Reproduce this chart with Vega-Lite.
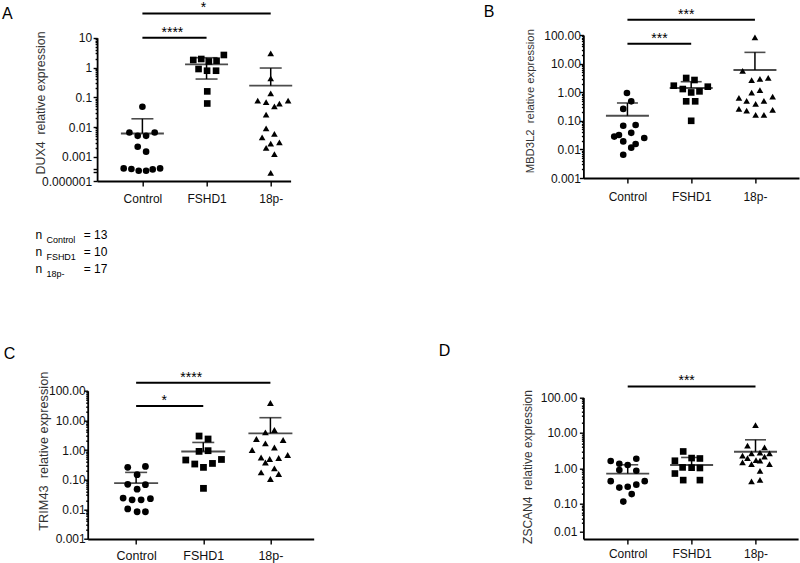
{
"$schema":"https://vega.github.io/schema/vega-lite/v6.json",
"background":"white",
"padding":{"left":1.7,"top":1,"right":0,"bottom":0},
"config":{"view":{"stroke":null},"font":"Liberation Sans","axis":{"grid":false,"domainColor":"#000","domainWidth":1.8,"tickColor":"#000","tickWidth":1.4,"labelColor":"#111","labelFont":"Liberation Sans","labelFontSize":12,"titleFont":"Liberation Sans","titleFontWeight":"normal","titleColor":"#333"}},
"datasets":{
"pts":[
{"p":"A","g":"Control","v":0.048,"o":0},{"p":"A","g":"Control","v":0.0066,"o":-13},{"p":"A","g":"Control","v":0.0051,"o":-4.7},{"p":"A","g":"Control","v":0.0051,"o":3.7},{"p":"A","g":"Control","v":0.0066,"o":12.3},{"p":"A","g":"Control","v":0.0022,"o":-4.7},{"p":"A","g":"Control","v":0.0015,"o":3.7},{"p":"A","g":"Control","v":0.000037,"o":-18.7},{"p":"A","g":"Control","v":0.000031,"o":-11},{"p":"A","g":"Control","v":0.000019,"o":-3.7},{"p":"A","g":"Control","v":0.000019,"o":3.7},{"p":"A","g":"Control","v":0.000028,"o":10.3},{"p":"A","g":"Control","v":0.000037,"o":17.7},
{"p":"A","g":"FSHD1","v":1.79,"o":-13.3},{"p":"A","g":"FSHD1","v":1.93,"o":-5.3},{"p":"A","g":"FSHD1","v":1.6,"o":2.3},{"p":"A","g":"FSHD1","v":1.69,"o":10},{"p":"A","g":"FSHD1","v":2.63,"o":17.3},{"p":"A","g":"FSHD1","v":0.89,"o":-8},{"p":"A","g":"FSHD1","v":0.78,"o":0.5},{"p":"A","g":"FSHD1","v":0.78,"o":9.5},{"p":"A","g":"FSHD1","v":0.158,"o":0.7},{"p":"A","g":"FSHD1","v":0.062,"o":0.7},
{"p":"A","g":"18p-","v":2.97,"o":0},{"p":"A","g":"18p-","v":0.43,"o":0},{"p":"A","g":"18p-","v":0.135,"o":0},{"p":"A","g":"18p-","v":0.077,"o":-13},{"p":"A","g":"18p-","v":0.0685,"o":-4.6},{"p":"A","g":"18p-","v":0.05,"o":3.7},{"p":"A","g":"18p-","v":0.061,"o":8.7},{"p":"A","g":"18p-","v":0.077,"o":17.4},{"p":"A","g":"18p-","v":0.026,"o":-4.6},{"p":"A","g":"18p-","v":0.0091,"o":-4.6},{"p":"A","g":"18p-","v":0.0059,"o":3.7},{"p":"A","g":"18p-","v":0.0045,"o":-8.6},{"p":"A","g":"18p-","v":0.0031,"o":8.7},{"p":"A","g":"18p-","v":0.0028,"o":0},{"p":"A","g":"18p-","v":0.002,"o":-4.6},{"p":"A","g":"18p-","v":0.00125,"o":3.7},{"p":"A","g":"18p-","v":0.00001,"o":0},
{"p":"B","g":"Control","v":0.94,"o":-0.5},{"p":"B","g":"Control","v":0.48,"o":3.8},{"p":"B","g":"Control","v":0.26,"o":-4.2},{"p":"B","g":"Control","v":0.071,"o":8.2},{"p":"B","g":"Control","v":0.067,"o":-4.2},{"p":"B","g":"Control","v":0.028,"o":-13.2},{"p":"B","g":"Control","v":0.032,"o":-8.5},{"p":"B","g":"Control","v":0.038,"o":3.8},{"p":"B","g":"Control","v":0.025,"o":16.8},{"p":"B","g":"Control","v":0.019,"o":-4.2},{"p":"B","g":"Control","v":0.0155,"o":8.2},{"p":"B","g":"Control","v":0.0115,"o":3.8},{"p":"B","g":"Control","v":0.0065,"o":-4.2},
{"p":"B","g":"FSHD1","v":1.69,"o":-17.4},{"p":"B","g":"FSHD1","v":1.29,"o":-8.4},{"p":"B","g":"FSHD1","v":3.14,"o":-5},{"p":"B","g":"FSHD1","v":2.67,"o":3.3},{"p":"B","g":"FSHD1","v":0.98,"o":0},{"p":"B","g":"FSHD1","v":1.07,"o":8.3},{"p":"B","g":"FSHD1","v":1.56,"o":16.6},{"p":"B","g":"FSHD1","v":0.48,"o":-5},{"p":"B","g":"FSHD1","v":0.48,"o":4},{"p":"B","g":"FSHD1","v":0.1,"o":0},
{"p":"B","g":"18p-","v":82,"o":0},{"p":"B","g":"18p-","v":5.6,"o":-12.3},{"p":"B","g":"18p-","v":2.67,"o":-3.3},{"p":"B","g":"18p-","v":2.9,"o":5},{"p":"B","g":"18p-","v":3.14,"o":13.3},{"p":"B","g":"18p-","v":0.96,"o":-3.3},{"p":"B","g":"18p-","v":1.19,"o":5},{"p":"B","g":"18p-","v":0.63,"o":-16},{"p":"B","g":"18p-","v":0.5,"o":-8.3},{"p":"B","g":"18p-","v":0.39,"o":0.7},{"p":"B","g":"18p-","v":0.5,"o":9},{"p":"B","g":"18p-","v":0.7,"o":17.7},{"p":"B","g":"18p-","v":0.26,"o":-16},{"p":"B","g":"18p-","v":0.225,"o":-8.3},{"p":"B","g":"18p-","v":0.16,"o":0.7},{"p":"B","g":"18p-","v":0.16,"o":9},{"p":"B","g":"18p-","v":0.24,"o":17.7},
{"p":"C","g":"Control","v":0.26,"o":-8.4},{"p":"C","g":"Control","v":0.28,"o":9.3},{"p":"C","g":"Control","v":0.147,"o":1},{"p":"C","g":"Control","v":0.048,"o":1},{"p":"C","g":"Control","v":0.068,"o":9.3},{"p":"C","g":"Control","v":0.07,"o":-8.4},{"p":"C","g":"Control","v":0.024,"o":-13},{"p":"C","g":"Control","v":0.021,"o":-4},{"p":"C","g":"Control","v":0.021,"o":5},{"p":"C","g":"Control","v":0.0228,"o":14.3},{"p":"C","g":"Control","v":0.0103,"o":-8.4},{"p":"C","g":"Control","v":0.0083,"o":1},{"p":"C","g":"Control","v":0.0083,"o":9.3},
{"p":"C","g":"FSHD1","v":2.96,"o":-4.2},{"p":"C","g":"FSHD1","v":2.35,"o":4.8},{"p":"C","g":"FSHD1","v":0.9,"o":-4.2},{"p":"C","g":"FSHD1","v":0.95,"o":4.8},{"p":"C","g":"FSHD1","v":0.46,"o":-17.5},{"p":"C","g":"FSHD1","v":0.337,"o":-8.5},{"p":"C","g":"FSHD1","v":0.26,"o":0.2},{"p":"C","g":"FSHD1","v":0.353,"o":9.2},{"p":"C","g":"FSHD1","v":0.48,"o":18.2},{"p":"C","g":"FSHD1","v":0.051,"o":0.2},
{"p":"C","g":"18p-","v":38.4,"o":0},{"p":"C","g":"18p-","v":3.92,"o":-5},{"p":"C","g":"18p-","v":4.72,"o":4},{"p":"C","g":"18p-","v":2.35,"o":-14},{"p":"C","g":"18p-","v":2.17,"o":12.7},{"p":"C","g":"18p-","v":1.0,"o":-18.3},{"p":"C","g":"18p-","v":1.67,"o":-5},{"p":"C","g":"18p-","v":1.22,"o":4},{"p":"C","g":"18p-","v":0.56,"o":-9.3},{"p":"C","g":"18p-","v":0.5,"o":-0.7},{"p":"C","g":"18p-","v":0.54,"o":8.3},{"p":"C","g":"18p-","v":0.68,"o":17.3},{"p":"C","g":"18p-","v":0.38,"o":-5},{"p":"C","g":"18p-","v":0.176,"o":-9.3},{"p":"C","g":"18p-","v":0.24,"o":4},{"p":"C","g":"18p-","v":0.155,"o":8.3},{"p":"C","g":"18p-","v":0.105,"o":0},
{"p":"D","g":"Control","v":1.62,"o":-17},{"p":"D","g":"Control","v":1.36,"o":-8.4},{"p":"D","g":"Control","v":1.25,"o":0},{"p":"D","g":"Control","v":1.88,"o":8.6},{"p":"D","g":"Control","v":0.9,"o":-8.4},{"p":"D","g":"Control","v":0.86,"o":8.6},{"p":"D","g":"Control","v":0.44,"o":-17},{"p":"D","g":"Control","v":0.44,"o":17},{"p":"D","g":"Control","v":0.29,"o":-8.4},{"p":"D","g":"Control","v":0.305,"o":0},{"p":"D","g":"Control","v":0.35,"o":8.6},{"p":"D","g":"Control","v":0.19,"o":4},{"p":"D","g":"Control","v":0.117,"o":-4.4},
{"p":"D","g":"FSHD1","v":3.01,"o":-8.4},{"p":"D","g":"FSHD1","v":1.65,"o":-16.7},{"p":"D","g":"FSHD1","v":1.96,"o":0},{"p":"D","g":"FSHD1","v":1.91,"o":8.3},{"p":"D","g":"FSHD1","v":1.07,"o":-9},{"p":"D","g":"FSHD1","v":1.05,"o":0},{"p":"D","g":"FSHD1","v":1.03,"o":8.3},{"p":"D","g":"FSHD1","v":0.72,"o":-16.7},{"p":"D","g":"FSHD1","v":0.47,"o":-8.4},{"p":"D","g":"FSHD1","v":0.47,"o":8.3},
{"p":"D","g":"18p-","v":16.7,"o":0},{"p":"D","g":"18p-","v":4.36,"o":-8},{"p":"D","g":"18p-","v":3.9,"o":9},{"p":"D","g":"18p-","v":2.28,"o":-13},{"p":"D","g":"18p-","v":2.65,"o":-4},{"p":"D","g":"18p-","v":2.77,"o":4.5},{"p":"D","g":"18p-","v":2.65,"o":14},{"p":"D","g":"18p-","v":1.96,"o":-8},{"p":"D","g":"18p-","v":1.72,"o":0.5},{"p":"D","g":"18p-","v":2.14,"o":9},{"p":"D","g":"18p-","v":1.48,"o":-13},{"p":"D","g":"18p-","v":1.33,"o":-4},{"p":"D","g":"18p-","v":1.65,"o":4.5},{"p":"D","g":"18p-","v":1.33,"o":14},{"p":"D","g":"18p-","v":0.86,"o":4.5},{"p":"D","g":"18p-","v":0.43,"o":-4},{"p":"D","g":"18p-","v":0.48,"o":4.5}
],
"stats":[
{"p":"A","g":"Control","m":0.0061,"lo":0.0061,"hi":0.019,"lc":null},{"p":"A","g":"FSHD1","m":1.27,"lo":0.41,"hi":2.13,"lc":0.41},{"p":"A","g":"18p-","m":0.245,"lo":0.245,"hi":0.96,"lc":null},
{"p":"B","g":"Control","m":0.15,"lo":0.15,"hi":0.42,"lc":null},{"p":"B","g":"FSHD1","m":1.4,"lo":1.4,"hi":2.33,"lc":null},{"p":"B","g":"18p-","m":5.97,"lo":5.97,"hi":24.7,"lc":null},
{"p":"C","g":"Control","m":0.077,"lo":0.077,"hi":0.176,"lc":null},{"p":"C","g":"FSHD1","m":0.89,"lo":0.89,"hi":1.8,"lc":null},{"p":"C","g":"18p-","m":3.63,"lo":3.63,"hi":12.3,"lc":null},
{"p":"D","g":"Control","m":0.72,"lo":0.72,"hi":1.27,"lc":null},{"p":"D","g":"FSHD1","m":1.25,"lo":1.25,"hi":2.04,"lc":null},{"p":"D","g":"18p-","m":2.95,"lo":2.95,"hi":6.4,"lc":null}
],
"sig":[
{"p":"A","f":"Control","t":"18p-","at":"FSHD1","off":-3,"lv":65.3,"s":"*"},{"p":"A","f":"Control","t":"FSHD1","at":"Control","off":30,"lv":10,"s":"****"},
{"p":"B","f":"Control","t":"18p-","at":"FSHD1","off":-5,"lv":343,"s":"***"},{"p":"B","f":"Control","t":"FSHD1","at":"Control","off":32,"lv":49.7,"s":"***"},
{"p":"C","f":"Control","t":"18p-","at":"FSHD1","off":-12,"lv":186,"s":"****"},{"p":"C","f":"Control","t":"FSHD1","at":"Control","off":28,"lv":30.5,"s":"*"},
{"p":"D","f":"Control","t":"18p-","at":"FSHD1","off":-5,"lv":204,"s":"***"}
],
"nb":[{"g":"Control","sub":"Control","eq":"= 13"},{"g":"FSHD1","sub":"FSHD1","eq":"= 10"},{"g":"18p-","sub":"18p-","eq":"= 17"}],
"letters":[{"l":"A"},{"l":"B"},{"l":"C"},{"l":"D"}]
},
"bounds":"flush",
"columns":2,
"spacing":{"row":209.7,"column":269.7},
"concat":[
 {"width":202.9,"height":146,
  "resolve":{"scale":{"x":"independent","y":"independent"}},
  "layer":[
   {"layer":[
    {"data":{"name":"stats"},"transform":[{"filter":"datum.p==='A'"}],"mark":{"type":"rule","color":"#000","strokeWidth":1.5},
     "encoding":{"x":{"field":"g","type":"nominal","scale":{"type":"point","domain":["Control","FSHD1","18p-"],"range":[9.4,202.9],"padding":0.508,"align":0.695}},
      "y":{"field":"lo","type":"quantitative","scale":{"type":"log","domain":[0.000001,0.001,10],"range":[146,121.9,2.7],"nice":false}},"y2":{"field":"hi"}}},
    {"data":{"name":"stats"},"transform":[{"filter":"datum.p==='A'"}],"mark":{"type":"tick","color":"#000","size":22,"thickness":1.6},
     "encoding":{"x":{"field":"g","type":"nominal","scale":{"type":"point","domain":["Control","FSHD1","18p-"],"range":[9.4,202.9],"padding":0.508,"align":0.695}},
      "y":{"field":"hi","type":"quantitative","scale":{"type":"log","domain":[0.000001,0.001,10],"range":[146,121.9,2.7],"nice":false}}}},
    {"data":{"name":"stats"},"transform":[{"filter":"datum.p==='A' && datum.lc != null"}],"mark":{"type":"tick","color":"#000","size":22,"thickness":1.6},
     "encoding":{"x":{"field":"g","type":"nominal","scale":{"type":"point","domain":["Control","FSHD1","18p-"],"range":[9.4,202.9],"padding":0.508,"align":0.695}},
      "y":{"field":"lc","type":"quantitative","scale":{"type":"log","domain":[0.000001,0.001,10],"range":[146,121.9,2.7],"nice":false}}}},
    {"data":{"name":"stats"},"transform":[{"filter":"datum.p==='A'"}],"mark":{"type":"tick","color":"#000","size":43,"thickness":1.8},
     "encoding":{"x":{"field":"g","type":"nominal","scale":{"type":"point","domain":["Control","FSHD1","18p-"],"range":[9.4,202.9],"padding":0.508,"align":0.695}},
      "y":{"field":"m","type":"quantitative","scale":{"type":"log","domain":[0.000001,0.001,10],"range":[146,121.9,2.7],"nice":false}}}},
    {"data":{"name":"pts"},"transform":[{"filter":"datum.p==='A'"}],"mark":{"type":"point","filled":true,"color":"#000","size":44,"opacity":1},
     "encoding":{"x":{"field":"g","type":"nominal","scale":{"type":"point","domain":["Control","FSHD1","18p-"],"range":[9.4,202.9],"padding":0.508,"align":0.695},
       "axis":{"title":null,"labelAngle":0,"labelAlign":"center","labelBaseline":"top","tickSize":5,"labelPadding":7,"labelFontSize":12}},
      "xOffset":{"field":"o","type":"quantitative","scale":{"domain":[-40,40],"range":[-40,40]}},
      "y":{"field":"v","type":"quantitative","scale":{"type":"log","domain":[0.000001,0.001,10],"range":[146,121.9,2.7],"nice":false},
       "axis":{"offset":-9.4,"values":[0.000001,0.000012,0.000031,0.001,0.002,0.003,0.004,0.005,0.006,0.007,0.008,0.009,0.01,0.02,0.03,0.04,0.05,0.06,0.07,0.08,0.09,0.1,0.2,0.3,0.4,0.5,0.6,0.7,0.8,0.9,1,2,3,4,5,6,7,8,9,10],
        "labelExpr":"abs(log(datum.value)/LN10-round(log(datum.value)/LN10))<0.001 ? (datum.value<0.00001 ? '0.000001' : format(datum.value,'~g')) : ''",
        "labelOverlap":false,"labelFlush":false,"labelBound":false,"labelPadding":1.5,
        "tickSize":{"condition":{"test":"abs(log(datum.value)/LN10-round(log(datum.value)/LN10))>=0.001 && datum.value>=0.0005","value":2},"value":4},
        "title":"DUX4\u00a0 relative expression","titleX":-52.4,"titleY":67.4,"titleFontSize":12.4,"titleAlign":"center","titleBaseline":"alphabetic"}},
      "shape":{"field":"g","type":"nominal","scale":{"domain":["Control","FSHD1","18p-"],"range":["circle","square","triangle-up"]},"legend":null}}},
    {"data":{"name":"sig"},"transform":[{"filter":"datum.p==='A'"}],"mark":{"type":"rule","color":"#000","strokeWidth":2},
     "encoding":{"x":{"field":"f","type":"nominal","scale":{"type":"point","domain":["Control","FSHD1","18p-"],"range":[9.4,202.9],"padding":0.508,"align":0.695}},"x2":{"field":"t"},
      "y":{"field":"lv","type":"quantitative","scale":{"type":"log","domain":[0.000001,0.001,10],"range":[146,121.9,2.7],"nice":false}}}},
    {"data":{"name":"sig"},"transform":[{"filter":"datum.p==='A'"}],"mark":{"type":"text","color":"#000","fontSize":14,"dy":-1,"baseline":"alphabetic","align":"center","font":"Liberation Sans"},
     "encoding":{"x":{"field":"at","type":"nominal","scale":{"type":"point","domain":["Control","FSHD1","18p-"],"range":[9.4,202.9],"padding":0.508,"align":0.695}},
      "xOffset":{"field":"off","type":"quantitative","scale":{"domain":[-40,40],"range":[-40,40]}},
      "y":{"field":"lv","type":"quantitative","scale":{"type":"log","domain":[0.000001,0.001,10],"range":[146,121.9,2.7],"nice":false}},"text":{"field":"s"}}}
   ]},
   {"data":{"name":"nb"},
    "encoding":{"y":{"field":"g","type":"nominal","scale":{"type":"point","domain":["Control","FSHD1","18p-"],"range":[204.4,238],"padding":0},"axis":null}},
    "layer":[
     {"mark":{"type":"text","align":"left","baseline":"alphabetic","fontSize":12,"font":"Liberation Sans","color":"#000"},
      "encoding":{"x":{"datum":"n","type":"nominal","scale":{"type":"point","domain":["n","eq"],"range":[-52.3,-4],"padding":0},"axis":null},"text":{"value":"n"}}},
     {"mark":{"type":"text","align":"left","baseline":"alphabetic","fontSize":9,"dx":11,"dy":4,"font":"Liberation Sans","color":"#000"},
      "encoding":{"x":{"datum":"n","type":"nominal","scale":{"type":"point","domain":["n","eq"],"range":[-52.3,-4],"padding":0},"axis":null},"text":{"field":"sub"}}},
     {"mark":{"type":"text","align":"left","baseline":"alphabetic","fontSize":12,"font":"Liberation Sans","color":"#000"},
      "encoding":{"x":{"datum":"eq","type":"nominal","scale":{"type":"point","domain":["n","eq"],"range":[-52.3,-4],"padding":0},"axis":null},"text":{"field":"eq"}}}
    ]},
   {"data":{"name":"letters"},"transform":[{"filter":"datum.l==='A'"}],
    "mark":{"type":"text","align":"left","baseline":"alphabetic","fontSize":16,"font":"Liberation Sans","color":"#000"},
    "encoding":{"x":{"field":"l","type":"nominal","scale":{"type":"point","range":[-85.6,-85.6],"padding":0},"axis":null},
     "y":{"field":"l","type":"nominal","scale":{"type":"point","range":[-16,-16],"padding":0},"axis":null},"text":{"field":"l"}}}
  ]},
 {"width":215.6,"height":143,
  "resolve":{"scale":{"x":"independent","y":"independent"}},
  "layer":[
   {"layer":[
   {"data":{"name":"stats"},"transform":[{"filter":"datum.p==='B'"}],"mark":{"type":"rule","color":"#000","strokeWidth":1.5},
    "encoding":{"x":{"field":"g","type":"nominal","scale":{"type":"point","domain":["Control","FSHD1","18p-"],"padding":0.691,"align":0.5}},
     "y":{"field":"lo","type":"quantitative","scale":{"type":"log","domain":[0.001,100],"range":[143,0],"nice":false}},"y2":{"field":"hi"}}},
   {"data":{"name":"stats"},"transform":[{"filter":"datum.p==='B'"}],"mark":{"type":"tick","color":"#000","size":21,"thickness":1.6},
    "encoding":{"x":{"field":"g","type":"nominal","scale":{"type":"point","domain":["Control","FSHD1","18p-"],"padding":0.691,"align":0.5}},
     "y":{"field":"hi","type":"quantitative","scale":{"type":"log","domain":[0.001,100],"range":[143,0],"nice":false}}}},
   {"data":{"name":"stats"},"transform":[{"filter":"datum.p==='B'"}],"mark":{"type":"tick","color":"#000","size":43,"thickness":1.8},
    "encoding":{"x":{"field":"g","type":"nominal","scale":{"type":"point","domain":["Control","FSHD1","18p-"],"padding":0.691,"align":0.5}},
     "y":{"field":"m","type":"quantitative","scale":{"type":"log","domain":[0.001,100],"range":[143,0],"nice":false}}}},
   {"data":{"name":"pts"},"transform":[{"filter":"datum.p==='B'"}],"mark":{"type":"point","filled":true,"color":"#000","size":44,"opacity":1},
    "encoding":{"x":{"field":"g","type":"nominal","scale":{"type":"point","domain":["Control","FSHD1","18p-"],"padding":0.691,"align":0.5},
      "axis":{"title":null,"labelAngle":0,"labelAlign":"center","labelBaseline":"top","tickSize":5,"labelPadding":8,"labelFontSize":12}},
     "xOffset":{"field":"o","type":"quantitative","scale":{"domain":[-40,40],"range":[-40,40]}},
     "y":{"field":"v","type":"quantitative","scale":{"type":"log","domain":[0.001,100],"range":[143,0],"nice":false},
      "axis":{"values":[0.001,0.002,0.003,0.004,0.005,0.006,0.007,0.008,0.009,0.01,0.02,0.03,0.04,0.05,0.06,0.07,0.08,0.09,0.1,0.2,0.3,0.4,0.5,0.6,0.7,0.8,0.9,1,2,3,4,5,6,7,8,9,10,20,30,40,50,60,70,80,90,100],
       "labelExpr":"abs(log(datum.value)/LN10-round(log(datum.value)/LN10))<0.001 ? (datum.value<0.005 ? '0.001' : format(datum.value,'.2f')) : ''",
       "labelOverlap":false,"labelFlush":false,"labelBound":false,"labelPadding":-1,
       "tickSize":{"condition":{"test":"abs(log(datum.value)/LN10-round(log(datum.value)/LN10))>=0.001","value":2},"value":4},
       "title":"MBD3L2\u00a0 relative expression","titleX":-49.4,"titleY":65.7,"titleFontSize":11.3,"titleAlign":"center","titleBaseline":"alphabetic"}},
     "shape":{"field":"g","type":"nominal","scale":{"domain":["Control","FSHD1","18p-"],"range":["circle","square","triangle-up"]},"legend":null}}},
   {"data":{"name":"sig"},"transform":[{"filter":"datum.p==='B'"}],"mark":{"type":"rule","color":"#000","strokeWidth":2},
    "encoding":{"x":{"field":"f","type":"nominal","scale":{"type":"point","domain":["Control","FSHD1","18p-"],"padding":0.691,"align":0.5}},"x2":{"field":"t"},
     "y":{"field":"lv","type":"quantitative","scale":{"type":"log","domain":[0.001,100],"range":[143,0],"nice":false}}}},
   {"data":{"name":"sig"},"transform":[{"filter":"datum.p==='B'"}],"mark":{"type":"text","color":"#000","fontSize":14,"dy":-1,"baseline":"alphabetic","align":"center","font":"Liberation Sans"},
    "encoding":{"x":{"field":"at","type":"nominal","scale":{"type":"point","domain":["Control","FSHD1","18p-"],"padding":0.691,"align":0.5}},
     "xOffset":{"field":"off","type":"quantitative","scale":{"domain":[-40,40],"range":[-40,40]}},
     "y":{"field":"lv","type":"quantitative","scale":{"type":"log","domain":[0.001,100],"range":[143,0],"nice":false}},"text":{"field":"s"}}}
   ]},
   {"data":{"name":"letters"},"transform":[{"filter":"datum.l==='B'"}],
    "mark":{"type":"text","align":"left","baseline":"alphabetic","fontSize":16,"font":"Liberation Sans","color":"#000"},
    "encoding":{"x":{"field":"l","type":"nominal","scale":{"type":"point","range":[-99.7,-99.7],"padding":0},"axis":null},
     "y":{"field":"l","type":"nominal","scale":{"type":"point","range":[-17.6,-17.6],"padding":0},"axis":null},"text":{"field":"l"}}}
  ]},
 {"width":226,"height":148.3,
  "resolve":{"scale":{"x":"independent","y":"independent"}},
  "layer":[
   {"layer":[
   {"data":{"name":"stats"},"transform":[{"filter":"datum.p==='C'"}],"mark":{"type":"rule","color":"#000","strokeWidth":1.5},
    "encoding":{"x":{"field":"g","type":"nominal","scale":{"type":"point","domain":["Control","FSHD1","18p-"],"padding":0.683,"align":0.528}},
     "y":{"field":"lo","type":"quantitative","scale":{"type":"log","domain":[0.001,100],"range":[148.3,0],"nice":false}},"y2":{"field":"hi"}}},
   {"data":{"name":"stats"},"transform":[{"filter":"datum.p==='C'"}],"mark":{"type":"tick","color":"#000","size":22,"thickness":1.6},
    "encoding":{"x":{"field":"g","type":"nominal","scale":{"type":"point","domain":["Control","FSHD1","18p-"],"padding":0.683,"align":0.528}},
     "y":{"field":"hi","type":"quantitative","scale":{"type":"log","domain":[0.001,100],"range":[148.3,0],"nice":false}}}},
   {"data":{"name":"stats"},"transform":[{"filter":"datum.p==='C'"}],"mark":{"type":"tick","color":"#000","size":44,"thickness":1.8},
    "encoding":{"x":{"field":"g","type":"nominal","scale":{"type":"point","domain":["Control","FSHD1","18p-"],"padding":0.683,"align":0.528}},
     "y":{"field":"m","type":"quantitative","scale":{"type":"log","domain":[0.001,100],"range":[148.3,0],"nice":false}}}},
   {"data":{"name":"pts"},"transform":[{"filter":"datum.p==='C'"}],"mark":{"type":"point","filled":true,"color":"#000","size":46,"opacity":1},
    "encoding":{"x":{"field":"g","type":"nominal","scale":{"type":"point","domain":["Control","FSHD1","18p-"],"padding":0.683,"align":0.528},
      "axis":{"title":null,"labelAngle":0,"labelAlign":"center","labelBaseline":"top","tickSize":5,"labelPadding":6,"labelFontSize":12.5}},
     "xOffset":{"field":"o","type":"quantitative","scale":{"domain":[-40,40],"range":[-40,40]}},
     "y":{"field":"v","type":"quantitative","scale":{"type":"log","domain":[0.001,100],"range":[148.3,0],"nice":false},
      "axis":{"values":[0.001,0.002,0.003,0.004,0.005,0.006,0.007,0.008,0.009,0.01,0.02,0.03,0.04,0.05,0.06,0.07,0.08,0.09,0.1,0.2,0.3,0.4,0.5,0.6,0.7,0.8,0.9,1,2,3,4,5,6,7,8,9,10,20,30,40,50,60,70,80,90,100],
       "labelExpr":"abs(log(datum.value)/LN10-round(log(datum.value)/LN10))<0.001 ? (datum.value<0.005 ? '0.001' : format(datum.value,'.2f')) : ''",
       "labelOverlap":false,"labelFlush":false,"labelBound":false,"labelPadding":-1.5,
       "tickSize":{"condition":{"test":"abs(log(datum.value)/LN10-round(log(datum.value)/LN10))>=0.001","value":2},"value":4},
       "title":"TRIM43\u00a0 relative expression","titleX":-40.6,"titleY":60,"titleFontSize":12.8,"titleAlign":"center","titleBaseline":"alphabetic"}},
     "shape":{"field":"g","type":"nominal","scale":{"domain":["Control","FSHD1","18p-"],"range":["circle","square","triangle-up"]},"legend":null}}},
   {"data":{"name":"sig"},"transform":[{"filter":"datum.p==='C'"}],"mark":{"type":"rule","color":"#000","strokeWidth":2},
    "encoding":{"x":{"field":"f","type":"nominal","scale":{"type":"point","domain":["Control","FSHD1","18p-"],"padding":0.683,"align":0.528}},"x2":{"field":"t"},
     "y":{"field":"lv","type":"quantitative","scale":{"type":"log","domain":[0.001,100],"range":[148.3,0],"nice":false}}}},
   {"data":{"name":"sig"},"transform":[{"filter":"datum.p==='C'"}],"mark":{"type":"text","color":"#000","fontSize":14,"dy":-1,"baseline":"alphabetic","align":"center","font":"Liberation Sans"},
    "encoding":{"x":{"field":"at","type":"nominal","scale":{"type":"point","domain":["Control","FSHD1","18p-"],"padding":0.683,"align":0.528}},
     "xOffset":{"field":"off","type":"quantitative","scale":{"domain":[-40,40],"range":[-40,40]}},
     "y":{"field":"lv","type":"quantitative","scale":{"type":"log","domain":[0.001,100],"range":[148.3,0],"nice":false}},"text":{"field":"s"}}}
   ]},
   {"data":{"name":"letters"},"transform":[{"filter":"datum.l==='C'"}],
    "mark":{"type":"text","align":"left","baseline":"alphabetic","fontSize":16,"font":"Liberation Sans","color":"#000"},
    "encoding":{"x":{"field":"l","type":"nominal","scale":{"type":"point","range":[-84,-84],"padding":0},"axis":null},
     "y":{"field":"l","type":"nominal","scale":{"type":"point","range":[-31.7,-31.7],"padding":0},"axis":null},"text":{"field":"l"}}}
  ]},
 {"width":214.7,"height":148.3,
  "resolve":{"scale":{"x":"independent","y":"independent"}},
  "layer":[
   {"layer":[
   {"data":{"name":"stats"},"transform":[{"filter":"datum.p==='D'"}],"mark":{"type":"rule","color":"#000","strokeWidth":1.5},
    "encoding":{"x":{"field":"g","type":"nominal","scale":{"type":"point","domain":["Control","FSHD1","18p-"],"padding":0.68,"align":0.51}},
     "y":{"field":"lo","type":"quantitative","scale":{"type":"log","domain":[0.006,0.01,0.1,100],"range":[148.3,140.7,113.3,6.7],"nice":false}},"y2":{"field":"hi"}}},
   {"data":{"name":"stats"},"transform":[{"filter":"datum.p==='D'"}],"mark":{"type":"tick","color":"#000","size":21,"thickness":1.6},
    "encoding":{"x":{"field":"g","type":"nominal","scale":{"type":"point","domain":["Control","FSHD1","18p-"],"padding":0.68,"align":0.51}},
     "y":{"field":"hi","type":"quantitative","scale":{"type":"log","domain":[0.006,0.01,0.1,100],"range":[148.3,140.7,113.3,6.7],"nice":false}}}},
   {"data":{"name":"stats"},"transform":[{"filter":"datum.p==='D'"}],"mark":{"type":"tick","color":"#000","size":43,"thickness":1.8},
    "encoding":{"x":{"field":"g","type":"nominal","scale":{"type":"point","domain":["Control","FSHD1","18p-"],"padding":0.68,"align":0.51}},
     "y":{"field":"m","type":"quantitative","scale":{"type":"log","domain":[0.006,0.01,0.1,100],"range":[148.3,140.7,113.3,6.7],"nice":false}}}},
   {"data":{"name":"pts"},"transform":[{"filter":"datum.p==='D'"}],"mark":{"type":"point","filled":true,"color":"#000","size":44,"opacity":1},
    "encoding":{"x":{"field":"g","type":"nominal","scale":{"type":"point","domain":["Control","FSHD1","18p-"],"padding":0.68,"align":0.51},
      "axis":{"title":null,"labelAngle":0,"labelAlign":"center","labelBaseline":"top","tickSize":5,"labelPadding":5,"labelFontSize":12}},
     "xOffset":{"field":"o","type":"quantitative","scale":{"domain":[-40,40],"range":[-40,40]}},
     "y":{"field":"v","type":"quantitative","scale":{"type":"log","domain":[0.006,0.01,0.1,100],"range":[148.3,140.7,113.3,6.7],"nice":false},
      "axis":{"values":[0.01,0.02,0.03,0.04,0.05,0.06,0.07,0.08,0.09,0.1,0.2,0.3,0.4,0.5,0.6,0.7,0.8,0.9,1,2,3,4,5,6,7,8,9,10,20,30,40,50,60,70,80,90,100],
       "labelExpr":"abs(log(datum.value)/LN10-round(log(datum.value)/LN10))<0.001 ? format(datum.value,'.2f') : ''",
       "labelOverlap":false,"labelFlush":false,"labelBound":false,"labelPadding":2.5,
       "tickSize":{"condition":{"test":"abs(log(datum.value)/LN10-round(log(datum.value)/LN10))>=0.001","value":2},"value":4},
       "title":"ZSCAN4\u00a0 relative expression","titleX":-51.6,"titleY":75.8,"titleFontSize":12,"titleAlign":"center","titleBaseline":"alphabetic"}},
     "shape":{"field":"g","type":"nominal","scale":{"domain":["Control","FSHD1","18p-"],"range":["circle","square","triangle-up"]},"legend":null}}},
   {"data":{"name":"sig"},"transform":[{"filter":"datum.p==='D'"}],"mark":{"type":"rule","color":"#000","strokeWidth":2},
    "encoding":{"x":{"field":"f","type":"nominal","scale":{"type":"point","domain":["Control","FSHD1","18p-"],"padding":0.68,"align":0.51}},"x2":{"field":"t"},
     "y":{"field":"lv","type":"quantitative","scale":{"type":"log","domain":[0.006,0.01,0.1,100],"range":[148.3,140.7,113.3,6.7],"nice":false}}}},
   {"data":{"name":"sig"},"transform":[{"filter":"datum.p==='D'"}],"mark":{"type":"text","color":"#000","fontSize":14,"dy":-1,"baseline":"alphabetic","align":"center","font":"Liberation Sans"},
    "encoding":{"x":{"field":"at","type":"nominal","scale":{"type":"point","domain":["Control","FSHD1","18p-"],"padding":0.68,"align":0.51}},
     "xOffset":{"field":"off","type":"quantitative","scale":{"domain":[-40,40],"range":[-40,40]}},
     "y":{"field":"lv","type":"quantitative","scale":{"type":"log","domain":[0.006,0.01,0.1,100],"range":[148.3,140.7,113.3,6.7],"nice":false}},"text":{"field":"s"}}}
   ]},
   {"data":{"name":"letters"},"transform":[{"filter":"datum.l==='D'"}],
    "mark":{"type":"text","align":"left","baseline":"alphabetic","fontSize":16,"font":"Liberation Sans","color":"#000"},
    "encoding":{"x":{"field":"l","type":"nominal","scale":{"type":"point","range":[-144.7,-144.7],"padding":0},"axis":null},
     "y":{"field":"l","type":"nominal","scale":{"type":"point","range":[-35,-35],"padding":0},"axis":null},"text":{"field":"l"}}}
  ]}
]
}
